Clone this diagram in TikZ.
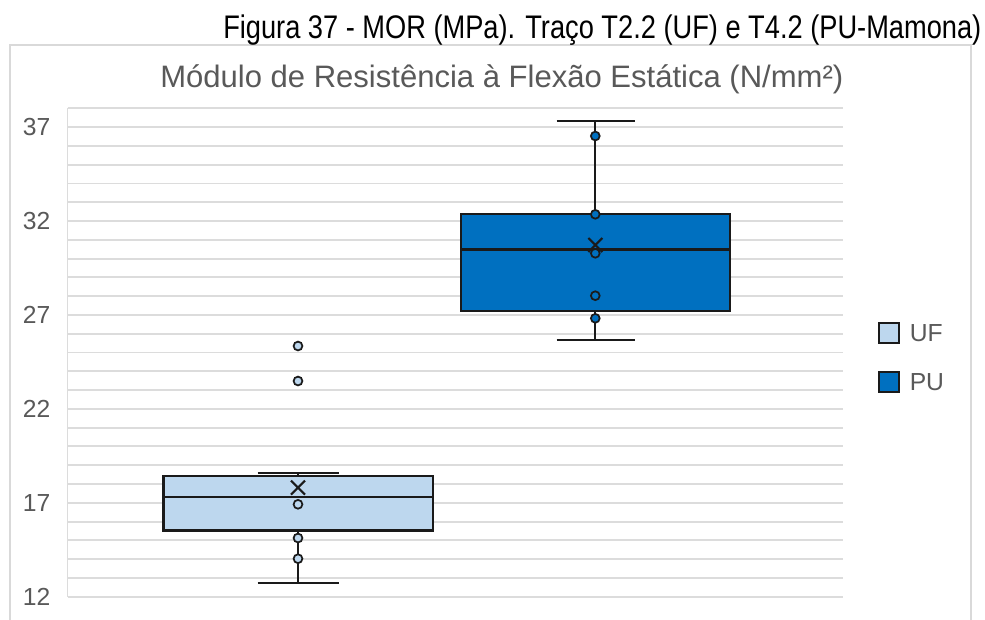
\documentclass[tikz,border=0pt]{standalone}
\usepackage{fontspec}
\setmainfont{Liberation Sans}
\usepackage{graphicx}
\definecolor{axisgray}{HTML}{595959}
\definecolor{gridgray}{HTML}{DCDCDC}
\definecolor{framegray}{HTML}{D9D9D9}
\definecolor{uffill}{HTML}{BDD7EE}
\definecolor{pufill}{HTML}{0070C0}
\definecolor{edge}{HTML}{1A1A1A}
\tikzset{
  gridline/.style={draw=gridgray, line width=1.4pt},
  boxshape/.style={draw=edge, line width=1.8pt},
  whisk/.style={draw=edge, line width=1.5pt},
  datapt/.style={draw=edge, line width=1.3pt},
  meanmark/.style={draw=edge, line width=1.6pt},
  ylab/.style={anchor=east, inner sep=0pt, text=axisgray, font=\fontsize{18.5pt}{20pt}\selectfont},
  legtext/.style={anchor=west, inner sep=0pt, text=axisgray, font=\fontsize{18.5pt}{20pt}\selectfont},
}
\begin{document}
\begin{tikzpicture}[x=0.75pt, y=-0.75pt]
\useasboundingbox (0,0) rectangle (985,619);
\fill[white] (0,0) rectangle (985,619);
\begin{scope}
\clip (0,0) rectangle (985,619);
% chart frame
\draw[framegray, line width=1.2pt] (10,45) rectangle (970.7,650);
% gridlines
\foreach \i in {0,...,26} {
  \draw[gridline] (67.7,{596.7-\i*18.785}) -- (842.7,{596.7-\i*18.785});
}
\draw[gridline, line width=1pt] (67.7,108.3) -- (67.7,596.7);
\end{scope}
% titles
\node[anchor=base west, inner sep=0pt] (title) at (223,38.3)
  {\resizebox{568.5pt}{\height}{\fontsize{24.5pt}{28pt}\selectfont Figura 37 - MOR (MPa). Traço T2.2 (UF) e T4.2 (PU-Mamona)}};
\node[anchor=base west, inner sep=0pt, text=axisgray] (ctitle) at (160,87.3)
  {\resizebox{512.25pt}{\height}{\fontsize{23.25pt}{26pt}\selectfont Módulo de Resistência à Flexão Estática (N/mm²)}};
% y labels
\foreach \v/\n in {12/y12,17/y17,22/y22,27/y27,32/y32,37/y37} {
  \node[ylab] (\n) at (50.5,{596.7-(\v-12)*18.785}) {\v};
}
% UF box
\draw[whisk] (298,476) -- (298,472.7);
\draw[whisk] (257.7,472.7) -- (339,472.7);
\draw[whisk] (298,530.3) -- (298,582.7);
\draw[whisk] (257.7,582.7) -- (339,582.7);
\filldraw[boxshape, fill=uffill] (163.3,476) rectangle (432.7,530.3);
\draw[boxshape] (163.3,496.7) -- (432.7,496.7);
\foreach \py in {346,381,504.3,538,558.7} {
  \filldraw[datapt, fill=uffill] (298,\py) circle (4.4);
}
\draw[meanmark] (291,480.7) -- (305,494.7) (291,494.7) -- (305,480.7);
% PU box
\draw[whisk] (595.3,213.7) -- (595.3,121);
\draw[whisk] (556.7,121) -- (635,121);
\draw[whisk] (595.3,311) -- (595.3,340);
\draw[whisk] (556.7,340) -- (635,340);
\filldraw[boxshape, fill=pufill] (460.7,213.7) rectangle (730,311);
\draw[boxshape] (460.7,249.3) -- (730,249.3);
\foreach \py in {136,214.3,253.3,295.7,318.3} {
  \filldraw[datapt, fill=pufill] (595.3,\py) circle (4.4);
}
\draw[meanmark] (588.3,238) -- (602.3,252) (588.3,252) -- (602.3,238);
% legend
\filldraw[boxshape, line width=1.5pt, fill=uffill] (879,323.3) rectangle (899,343.3);
\node[legtext] (leguf) at (909.5,333.3) {UF};
\filldraw[boxshape, line width=1.5pt, fill=pufill] (879,371.7) rectangle (899,391.7);
\node[legtext] (legpu) at (909.5,381.7) {PU};
\end{tikzpicture}
\end{document}
